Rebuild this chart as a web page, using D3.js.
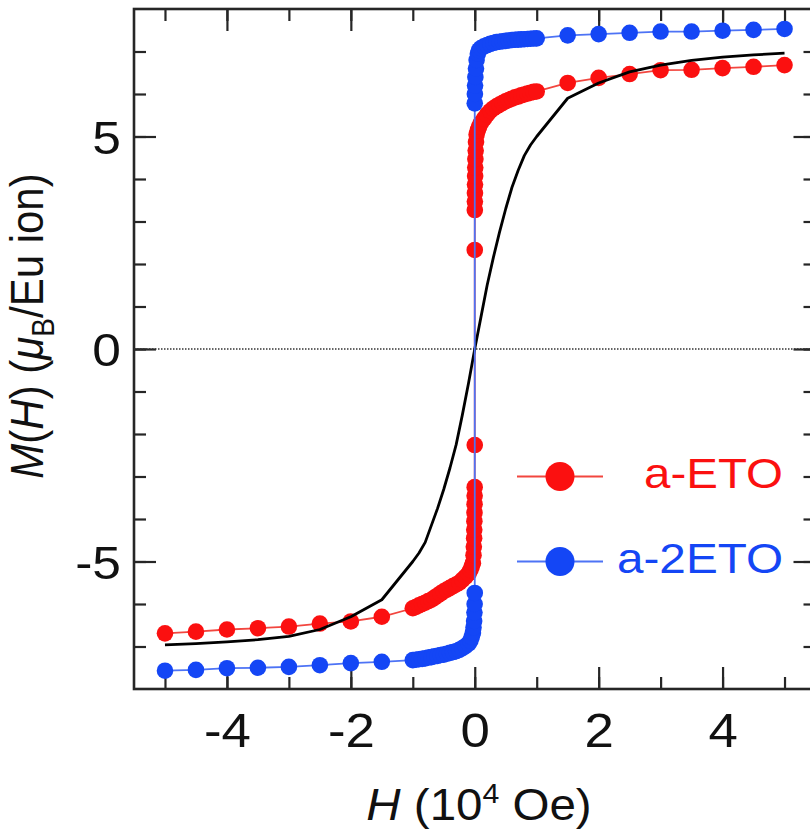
<!DOCTYPE html>
<html>
<head>
<meta charset="utf-8">
<script src="https://cdn.jsdelivr.net/npm/d3@7"></script>
<style>
  html, body { margin: 0; padding: 0; background: #ffffff; }
  svg { display: block; }
</style>
</head>
<body>
<svg id="chart" width="810" height="837"></svg>
<script>
// a-ETO magnetisation branch, H in 10^4 Oe, M in muB per Eu ion
const hEto = [-5, -4.5, -4, -3.5, -3, -2.5, -2, -1.5, -1,
  -0.95, -0.9, -0.85, -0.8, -0.75, -0.7, -0.65, -0.6, -0.55, -0.5,
  -0.45, -0.4, -0.35, -0.3, -0.25, -0.2, -0.15, -0.1,
  -0.07, -0.05, -0.03,
  -0.02, -0.015, -0.01, -0.008, -0.006, -0.004, -0.003, -0.002, -0.001,
  0, 0,
  0.001, 0.002, 0.003, 0.004, 0.006, 0.008, 0.01, 0.015, 0.02,
  0.03, 0.05, 0.07,
  0.1, 0.15, 0.2, 0.25, 0.3, 0.35, 0.4, 0.45, 0.5,
  0.55, 0.6, 0.65, 0.7, 0.75, 0.8, 0.85, 0.9, 0.95, 1,
  1.5, 2, 2.5, 3, 3.5, 4, 4.5, 5];
const mEto = [-6.69, -6.65, -6.60, -6.57, -6.53, -6.46, -6.41, -6.30, -6.10,
  -6.07, -6.03, -6.00, -5.97, -5.93, -5.90, -5.85, -5.80, -5.75, -5.70,
  -5.66, -5.62, -5.58, -5.54, -5.50, -5.43, -5.36, -5.28,
  -5.20, -5.12, -5.04,
  -4.85, -4.65, -4.45, -4.25, -4.05, -3.85, -3.65, -3.45, -3.25,
  -2.26, 2.33,
  3.27, 3.47, 3.67, 3.87, 4.07, 4.27, 4.47, 4.67, 4.87,
  5.05, 5.15, 5.23,
  5.32, 5.42, 5.52, 5.60, 5.66, 5.71, 5.75, 5.79, 5.83,
  5.86, 5.89, 5.92, 5.94, 5.97, 5.99, 6.01, 6.03, 6.05, 6.06,
  6.26, 6.38, 6.47, 6.56, 6.57, 6.61, 6.64, 6.68];

// a-2ETO magnetisation branch
const h2Eto = [-5, -4.5, -4, -3.5, -3, -2.5, -2, -1.5, -1,
  -0.95, -0.9, -0.85, -0.8, -0.75, -0.7, -0.65, -0.6, -0.55, -0.5,
  -0.45, -0.4, -0.35, -0.3, -0.25, -0.2, -0.15, -0.1,
  -0.07, -0.05, -0.03, -0.02, -0.01, -0.005, -0.002,
  0, 0,
  0.002, 0.005, 0.01, 0.02, 0.03, 0.05, 0.07,
  0.1, 0.15, 0.2, 0.25, 0.3, 0.35, 0.4, 0.45, 0.5,
  0.55, 0.6, 0.65, 0.7, 0.75, 0.8, 0.85, 0.9, 0.95, 1,
  1.5, 2, 2.5, 3, 3.5, 4, 4.5, 5];
const m2Eto = [-7.57, -7.55, -7.51, -7.50, -7.48, -7.44, -7.39, -7.36, -7.32,
  -7.31, -7.30, -7.29, -7.28, -7.26, -7.25, -7.23, -7.22, -7.20, -7.19,
  -7.17, -7.15, -7.13, -7.11, -7.08, -7.04, -6.99, -6.93,
  -6.86, -6.78, -6.68, -6.55, -6.40, -6.20, -6.00,
  -5.74, 5.78,
  6.00, 6.20, 6.40, 6.60, 6.80, 6.95, 7.03,
  7.08, 7.12, 7.15, 7.18, 7.20, 7.22, 7.23, 7.24, 7.25,
  7.26, 7.27, 7.275, 7.28, 7.285, 7.29, 7.295, 7.30, 7.305, 7.31,
  7.38, 7.41, 7.44, 7.47, 7.47, 7.49, 7.51, 7.53];

// calculated curve (solid black line)
const hCalc = [-5, -4.5, -4, -3.5, -3, -2.5, -2, -1.5, -1, -0.9, -0.8, -0.7, -0.6,
  -0.5, -0.4, -0.3, -0.2, -0.1, 0, 0.1, 0.2, 0.3, 0.4, 0.5, 0.6, 0.7, 0.8, 0.9, 1,
  1.5, 2, 2.5, 3, 3.5, 4, 4.5, 5];
const mCalc = [-6.96, -6.93, -6.89, -6.84, -6.76, -6.60, -6.30, -5.90, -5.00, -4.80,
  -4.55, -4.15, -3.75, -3.30, -2.80, -2.25, -1.55, -0.80, 0, 0.75, 1.50, 2.15, 2.75,
  3.30, 3.80, 4.20, 4.55, 4.80, 5.00, 5.90, 6.26, 6.52, 6.68, 6.79, 6.87, 6.92, 6.96];

// axis ticks and labels
const xMinorTicks = [-5, -4, -3, -2, -1, 0, 1, 2, 3, 4, 5];
const xMajorTicks = [-4, -2, 0, 2, 4];
const yMinorTicks = [-7, -6, -5, -4, -3, -2, -1, 0, 1, 2, 3, 4, 5, 6, 7];
const yMajorTicks = [-5, 0, 5];
const seriesNames = ["a-ETO", "a-2ETO"];

const FONT = "'Liberation Sans', Arial, Helvetica, sans-serif";
const RED = "#fb1010";
const RED_LINE = "#f2463f";
const BLUE = "#1446f5";
const BLUE_LINE = "#4d73f5";
const AXIS = "#262626";

const svg = d3.select("#chart");

const x = d3.scaleLinear().domain([-5.5, 5.5]).range([134, 815.5]);
const y = d3.scaleLinear().domain([-8, 8]).range([689, 9]);

const MINOR = 12, MAJOR = 22;

function tickAxis(gen, tx, ty, values, size) {
  const g = svg.append("g")
    .attr("transform", `translate(${tx},${ty})`)
    .call(gen.tickValues(values).tickSize(-size).tickSizeOuter(0).tickFormat(""));
  g.select(".domain").remove();
  g.selectAll(".tick line").attr("stroke", AXIS).attr("stroke-width", 2.2);
  return g;
}

// minor and major ticks on all four sides, pointing inward
tickAxis(d3.axisBottom(x), 0, 689, xMinorTicks, MINOR);
tickAxis(d3.axisTop(x), 0, 9, xMinorTicks, MINOR);
tickAxis(d3.axisLeft(y), 134, 0, yMinorTicks, MINOR);
tickAxis(d3.axisRight(y), 815.5, 0, yMinorTicks, MINOR);
tickAxis(d3.axisTop(x), 0, 9, xMajorTicks, MAJOR);
tickAxis(d3.axisRight(y), 815.5, 0, yMajorTicks, MAJOR);

// labelled axes
const xAxis = svg.append("g")
  .attr("transform", "translate(0,689)")
  .call(d3.axisBottom(x).tickValues(xMajorTicks).tickSize(-MAJOR).tickSizeOuter(0)
    .tickFormat(d3.format("d")));
xAxis.select(".domain").remove();
xAxis.selectAll(".tick line").attr("stroke", AXIS).attr("stroke-width", 2.2);
xAxis.selectAll(".tick text")
  .attr("x", 0).attr("y", 0).attr("dy", null)
  .attr("transform", "translate(0,58) scale(1.1,1)")
  .attr("fill", "#111").attr("font-family", FONT).attr("font-size", 48)
  .text(d => d < 0 ? "-" + Math.abs(d) : d);

const yAxis = svg.append("g")
  .attr("transform", "translate(134,0)")
  .call(d3.axisLeft(y).tickValues(yMajorTicks).tickSize(-MAJOR).tickSizeOuter(0)
    .tickFormat(d3.format("d")));
yAxis.select(".domain").remove();
yAxis.selectAll(".tick line").attr("stroke", AXIS).attr("stroke-width", 2.2);
yAxis.selectAll(".tick text")
  .attr("x", 0).attr("dy", null)
  .attr("transform", "translate(-13,16.5) scale(1.12,1)")
  .attr("text-anchor", "end")
  .attr("fill", "#111").attr("font-family", FONT).attr("font-size", 46)
  .text(d => d < 0 ? "-" + Math.abs(d) : d);

// plot frame
svg.append("rect")
  .attr("x", x(-5.5)).attr("y", y(8))
  .attr("width", x(5.5) - x(-5.5)).attr("height", y(-8) - y(8))
  .attr("fill", "none").attr("stroke", AXIS).attr("stroke-width", 2.6);

// dotted zero line
svg.append("line")
  .attr("x1", x(-5.5)).attr("x2", x(5.5))
  .attr("y1", y(0)).attr("y2", y(0))
  .attr("stroke", "#333").attr("stroke-width", 1.3)
  .attr("stroke-dasharray", "1.5,1.5");

const line = d3.line().x(d => x(d[0])).y(d => y(d[1]));

function drawSeries(hs, ms, lineColor, dotColor) {
  const pts = hs.map((h, i) => [h, ms[i]]);
  svg.append("path").datum(pts)
    .attr("d", line)
    .attr("fill", "none").attr("stroke", lineColor).attr("stroke-width", 1.8);
  svg.append("g").selectAll("circle").data(pts).join("circle")
    .attr("cx", d => x(d[0])).attr("cy", d => y(d[1]))
    .attr("r", 8.3).attr("fill", dotColor);
}

drawSeries(hEto, mEto, RED_LINE, RED);

// calculated curve
svg.append("path")
  .datum(hCalc.map((h, i) => [h, mCalc[i]]))
  .attr("d", line)
  .attr("fill", "none").attr("stroke", "#000").attr("stroke-width", 2.8)
  .attr("stroke-linejoin", "round");

drawSeries(h2Eto, m2Eto, BLUE_LINE, BLUE);

// legend
const legend = [
  { name: seriesNames[0], line: RED_LINE, dot: RED, cy: 476.5, len: 139 },
  { name: seriesNames[1], line: BLUE_LINE, dot: BLUE, cy: 561.5, len: 166 }
];
const lg = svg.append("g");
legend.forEach(e => {
  lg.append("line").attr("x1", 517).attr("x2", 603)
    .attr("y1", e.cy).attr("y2", e.cy)
    .attr("stroke", e.line).attr("stroke-width", 1.8);
  lg.append("circle").attr("cx", 560).attr("cy", e.cy).attr("r", 14.5).attr("fill", e.dot);
  lg.append("text")
    .attr("x", 783).attr("y", e.cy + 11)
    .attr("text-anchor", "end")
    .attr("font-family", FONT).attr("font-size", 42)
    .attr("textLength", e.len).attr("lengthAdjust", "spacingAndGlyphs")
    .attr("fill", e.dot)
    .text(e.name);
});

// x-axis title: H (10^4 Oe)
const xt = svg.append("text")
  .attr("transform", "translate(479,820) scale(1.08,1)")
  .attr("text-anchor", "middle")
  .attr("font-family", FONT).attr("font-size", 44).attr("fill", "#111");
xt.append("tspan").attr("font-style", "italic").text("H");
xt.append("tspan").text(" (10");
xt.append("tspan").attr("font-size", 28).attr("dy", -17).text("4");
xt.append("tspan").attr("dy", 17).text(" Oe)");

// y-axis title: M(H) (muB/Eu ion)
const yt = svg.append("text")
  .attr("transform", "translate(43,326) scale(1.12,1) rotate(-90)")
  .attr("text-anchor", "middle")
  .attr("font-family", FONT).attr("font-size", 42).attr("fill", "#111");
yt.append("tspan").attr("font-style", "italic").text("M");
yt.append("tspan").text("(");
yt.append("tspan").attr("font-style", "italic").text("H");
yt.append("tspan").text(") (");
yt.append("tspan").attr("font-style", "italic").text("\u03bc");
yt.append("tspan").attr("font-size", 28).attr("dy", 10).text("B");
yt.append("tspan").attr("dy", -10).text("/Eu ion)");
</script>
</body>
</html>
